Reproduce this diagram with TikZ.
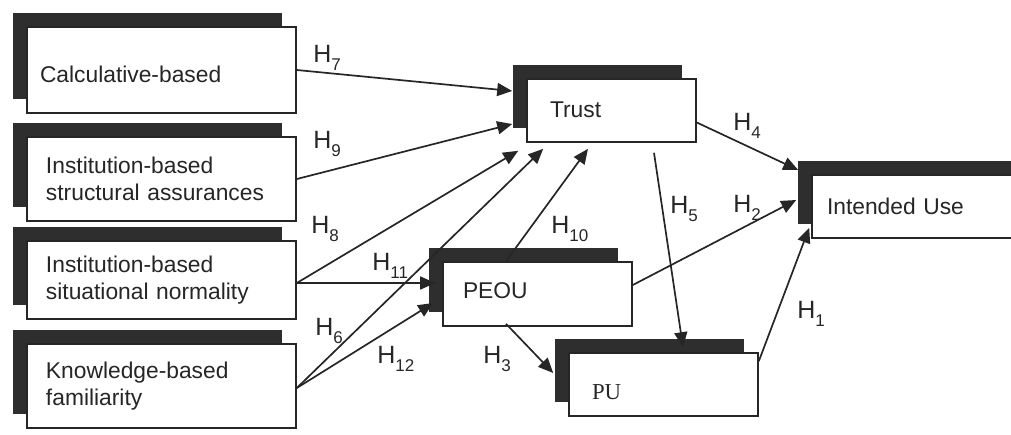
\documentclass[tikz,border=0pt]{standalone}
\usepackage{fontspec}
\setmainfont{Liberation Sans}
\newfontfamily\serifpu{Liberation Serif}
\usetikzlibrary{arrows.meta,shadows,calc}
\definecolor{shade}{HTML}{2E2E2E}
\definecolor{ink}{HTML}{262626}
\tikzset{
  box/.style={draw=ink, line width=0.8pt, fill=white, align=left, inner ysep=0pt, text=ink,
    font=\fontsize{11.4}{13.5}\selectfont,
    general shadow={fill=shade, shadow xshift=-7.2pt, shadow yshift=7.2pt}},
  conn/.style={draw=ink, line width=0.85pt, -{Triangle[length=7.5pt,width=6.5pt]}},
  hlab/.style={anchor=base west, inner sep=0pt, text=ink, font=\fontsize{12.5}{12.5}\selectfont},
}
\newcommand{\hsub}[1]{H\raisebox{-4pt}{\fontsize{8.5}{8.5}\selectfont #1}}
\begin{document}
\begin{tikzpicture}[x=0.5pt,y=-0.5pt]
\useasboundingbox (0,0) rectangle (1011,434);

% boxes
\node[box, minimum width=134.5pt, minimum height=43pt, inner xsep=6.5pt, text width=121.5pt,
      text height=12pt, text depth=0pt] (calc) at (161.5,70) {Calculative-based};
\node[box, minimum width=134.5pt, minimum height=42pt, inner xsep=9.5pt, text width=115.5pt]
      (struct) at (161.5,179) {Institution-based\\structural assurances};
\node[box, minimum width=134.5pt, minimum height=39pt, inner xsep=9.5pt, text width=115.5pt]
      (situ) at (161.5,280) {Institution-based\\situational normality};
\node[box, minimum width=134.5pt, minimum height=42pt, inner xsep=9.5pt, text width=115.5pt]
      (know) at (161.5,386) {Knowledge-based\\familiarity};
\node[box, minimum width=84.5pt, minimum height=31.5pt, inner xsep=11.5pt, text width=61.5pt,
      text height=8pt, text depth=1.5pt] (trust) at (611.5,110.5) {Trust};
\node[box, minimum width=108pt, minimum height=31.5pt, inner xsep=7.5pt, text width=93pt,
      text height=8pt, text depth=0.5pt] (intended) at (920,206.5) {Intended Use};
\node[box, minimum width=94.5pt, minimum height=32pt, inner xsep=10pt, text width=74.5pt,
      text height=8pt, text depth=4pt] (peou) at (537.5,294) {PEOU};
\node[box, minimum width=94.5pt, minimum height=31.5pt, inner xsep=11.5pt, text width=71.5pt,
      text height=14.5pt, text depth=0pt, font=\serifpu\fontsize{11.4}{13.5}\selectfont]
      (pu) at (663.5,384.5) {PU};

% connectors
\draw[conn] (calc.east) -- ([shift={(-14,-19.5)}]trust.west);
\draw[conn] (struct.east) -- ([shift={(-14,13.5)}]trust.west);
\draw[conn] ([shift={(0,3)}]situ.east) -- ([shift={(-8,8)}]trust.south west);
\draw[conn] ([shift={(0,3)}]situ.east) -- ([shift={(-7,-11)}]peou.west);
\draw[conn] ([shift={(0,2)}]know.east) -- ([shift={(17,6)}]trust.south west);
\draw[conn] ([shift={(0,2)}]know.east) -- ([shift={(-9,9)}]peou.west);
\draw[conn] ([shift={(-31.5,0)}]peou.north) -- ([shift={(-23.5,6)}]trust.south);
\draw[conn] ([shift={(0,12)}]trust.east) -- ([shift={(-13,-36.5)}]intended.west);
\draw[conn] ([shift={(0,-9)}]peou.east) -- ([shift={(-15,-6.5)}]intended.west);
\draw[conn] ([shift={(0,9)}]pu.north east) -- ([shift={(-2,-11)}]intended.south west);
\coordinate (h5s) at ([shift={(42.5,10)}]trust.south);
\draw[conn] (h5s) -- ([shift={(19.5,-5)}]pu.north);
\draw[conn] ([shift={(-31.5,-3)}]peou.south) -- ([shift={(-15,-11.5)}]pu.west);

% labels
\node[hlab] (l7) at (313,62) {\hsub{7}};
\node[hlab] (l9) at (313,148) {\hsub{9}};
\node[hlab] (l8) at (311,233) {\hsub{8}};
\node[hlab] (l11) at (372,270) {\hsub{11}};
\node[hlab] (l6) at (315,335) {\hsub{6}};
\node[hlab] (l12) at (377,363) {\hsub{12}};
\node[hlab] (l3) at (483,363) {\hsub{3}};
\node[hlab] (l10) at (551,233) {\hsub{10}};
\node[hlab] (l5) at (670,213) {\hsub{5}};
\node[hlab] (l4) at (733,130) {\hsub{4}};
\node[hlab] (l2) at (733,212) {\hsub{2}};
\node[hlab] (l1) at (797,318) {\hsub{1}};
\end{tikzpicture}
\end{document}
